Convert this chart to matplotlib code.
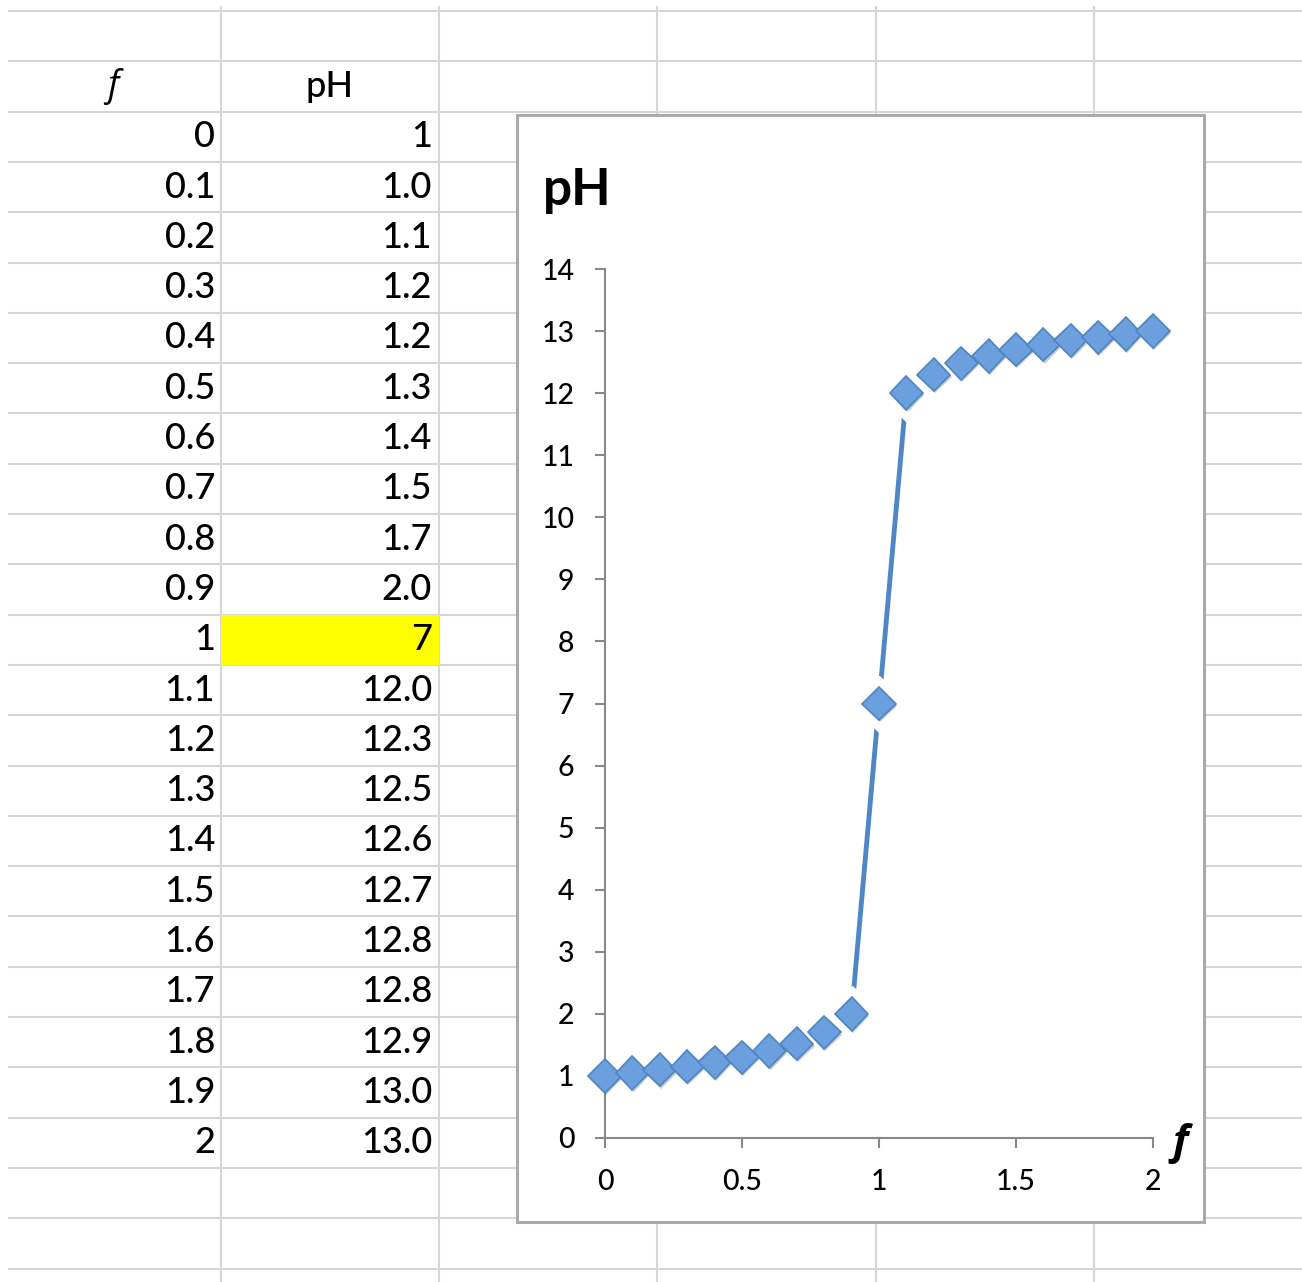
import matplotlib
matplotlib.use("Agg")
from matplotlib import pyplot as plt
from matplotlib import patches
from matplotlib import patheffects as pe

# data as shown in the sheet
f_vals = [0, 0.1, 0.2, 0.3, 0.4, 0.5, 0.6, 0.7, 0.8, 0.9, 1,
          1.1, 1.2, 1.3, 1.4, 1.5, 1.6, 1.7, 1.8, 1.9, 2]
ph_vals = [1.0, 1.05, 1.1, 1.15, 1.22, 1.3, 1.4, 1.52, 1.7, 2.0, 7.0,
           12.0, 12.3, 12.48, 12.6, 12.7, 12.78, 12.85, 12.9, 12.95, 13.0]
f_text = ["0", "0.1", "0.2", "0.3", "0.4", "0.5", "0.6", "0.7", "0.8", "0.9", "1",
          "1.1", "1.2", "1.3", "1.4", "1.5", "1.6", "1.7", "1.8", "1.9", "2"]
ph_text = ["1", "1.0", "1.1", "1.2", "1.2", "1.3", "1.4", "1.5", "1.7", "2.0", "7",
           "12.0", "12.3", "12.5", "12.6", "12.7", "12.8", "12.8", "12.9", "13.0", "13.0"]
highlight_row = 10
x_ticks = [0, 0.5, 1, 1.5, 2]
x_tick_labels = ["0", "0.5", "1", "1.5", "2"]
y_ticks = list(range(0, 15))

W, H = 1302, 1282
FONT = "Lato"
plt.rcParams['font.family'] = [FONT, 'DejaVu Sans']
plt.rcParams['font.weight'] = 'medium'

fig = plt.figure(figsize=(W / 100, H / 100), dpi=100)

# spreadsheet background, pixel coordinates (y down)
bg = fig.add_axes([0, 0, 1, 1], zorder=0)
bg.set_xlim(0, W)
bg.set_ylim(H, 0)
bg.axis('off')

row_h = 50.3
top = 11
col_w = 218.2
grid_col = '#d6d6d6'
for k in range(26):
    y = top + k * row_h
    bg.plot([9, W], [y, y], color=grid_col, lw=1.5, zorder=1)
for k in range(5):
    x = 221 + k * col_w
    bg.plot([x, x], [7, H], color=grid_col, lw=1.5, zorder=1)

# highlighted cell
y_hl = top + (highlight_row + 2) * row_h
bg.add_patch(patches.Rectangle((221, y_hl), col_w, row_h, facecolor='#ffff00',
                               edgecolor='none', zorder=2))

# header row
y_head = top + row_h + row_h / 2
bg.text(113, y_head, "f", ha='center', va='center', fontsize=26, style='italic',
        family=['Open Sans', 'DejaVu Sans'], zorder=3)
bg.text(330, y_head, "pH", ha='center', va='center', fontsize=26, zorder=3)

for i, (ft, pt) in enumerate(zip(f_text, ph_text)):
    y = top + (i + 2) * row_h + row_h / 2
    bg.text(215, y, ft, ha='right', va='center', fontsize=26, zorder=3)
    bg.text(432, y, pt, ha='right', va='center', fontsize=26, zorder=3)

# chart box
bg.add_patch(patches.Rectangle((517, 115), 1204 - 517, 1222 - 115, facecolor='white',
                               edgecolor='#aaaaaa', lw=2.2, zorder=4))
bg.text(543, 190, "pH", ha='left', va='center', fontsize=37, fontweight='bold', zorder=5)
bg.text(1180, 1143, "f", ha='center', va='center', fontsize=30, fontweight='bold',
        style='italic', family=['Open Sans', 'DejaVu Sans'], zorder=5)

# chart axes
ax_l, ax_r, ax_t, ax_b = 605, 1153, 269, 1138
ax = fig.add_axes([ax_l / W, (H - ax_b) / H, (ax_r - ax_l) / W, (ax_b - ax_t) / H], zorder=1)
ax.patch.set_visible(False)
ax.set_xlim(0, 2)
ax.set_ylim(0, 14)

line_col = '#4f86c6'
ax.plot(f_vals, ph_vals, color=line_col, lw=3.5, zorder=1, clip_on=False,
        solid_capstyle='butt')
ax.plot(f_vals, ph_vals, linestyle='none', marker='D', markersize=29,
        markerfacecolor='white', markeredgecolor='white', zorder=1.5, clip_on=False)
ax.plot(f_vals, ph_vals, linestyle='none', marker='D', markersize=17,
        markerfacecolor='#6c9fdd', markeredgecolor='#4f84c4', markeredgewidth=1.2,
        zorder=3, clip_on=False,
        path_effects=[pe.SimplePatchShadow(offset=(0.8, -1.5), alpha=0.25), pe.Normal()])

axis_col = '#888888'
for side in ['top', 'right']:
    ax.spines[side].set_visible(False)
for side in ['left', 'bottom']:
    ax.spines[side].set_color(axis_col)
    ax.spines[side].set_linewidth(1.5)

ax.set_xticks(x_ticks)
ax.set_xticklabels(x_tick_labels)
ax.set_yticks(y_ticks)
ax.tick_params(axis='both', direction='out', length=7, width=1.5, color=axis_col,
               labelsize=20.5, labelcolor='black')
ax.tick_params(axis='y', pad=15)
ax.tick_params(axis='x', pad=15)

fig.savefig("out.png", dpi=100)
